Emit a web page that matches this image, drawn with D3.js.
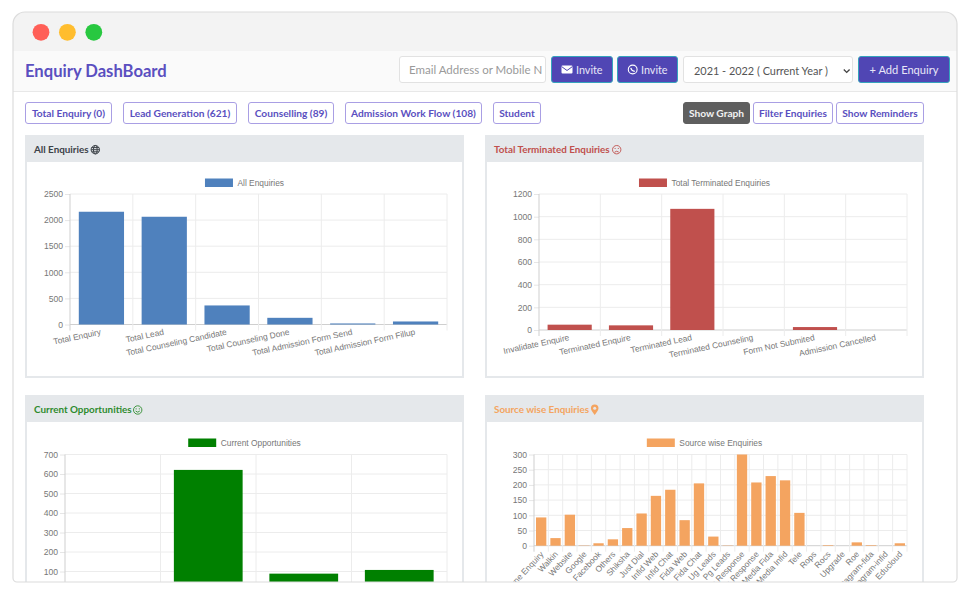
<!DOCTYPE html>
<html>
<head>
<meta charset="utf-8">
<script src="https://cdn.jsdelivr.net/npm/d3@7"></script>
<style>
html, body { margin: 0; padding: 0; background: #fff; }
svg { display: block; }
.ui { font-family: Lato, "Noto Sans", sans-serif; }
.chart text { font-family: "Liberation Sans", Arial, sans-serif; fill: #777; }
.chart .domain { display: none; }
</style>
</head>
<body>
<svg id="page" width="963" height="594"></svg>
<script>
// chart values
var allCategories = ['Total Enquiry', 'Total Lead', 'Total Counseling Candidate', 'Total Counseling Done',
    'Total Admission Form Send', 'Total Admission Form Fillup'];
var allValues = [2160, 2064, 365, 128, 20, 58];
var allTicks = [0, 500, 1000, 1500, 2000, 2500];

var terminatedCategories = ['Invalidate Enquire', 'Terminated Enquire', 'Terminated Lead', 'Terminated Counseling',
    'Form Not Submited', 'Admission Cancelled'];
var terminatedValues = [47, 41, 1069, 0, 26, 0];
var terminatedTicks = [0, 200, 400, 600, 800, 1000, 1200];

var opportunityCategories = ['Total Enquiry', 'Lead Generation', 'Counselling', 'Admission Work Flow'];
var opportunityValues = [0, 621, 89, 108];
var opportunityTicks = [0, 100, 200, 300, 400, 500, 600, 700];

var sourceCategories = ['Online Enquiry', 'Walkin', 'Website', 'Google', 'Facebook', 'Others', 'Shiksha', 'Just Dial',
    'Infid Web', 'Infid Chat', 'Fida Web', 'Fida Chat', 'Ug Leads', 'Pg Leads', 'Ug Response', 'Pg Response',
    'Social Media Fida', 'Social Media Infid', 'Tele', 'Rops', 'Rocs', 'Upgrade', 'Roe', 'Instagram-fida',
    'Instagram-infid', 'Educloud'];
var sourceValues = [93, 25, 102, 1, 8, 21, 58, 106, 164, 184, 84, 205, 30, 1, 300, 208, 229, 215, 108, 0, 2, 0, 11, 2, 0, 8];
var sourceTicks = [0, 50, 100, 150, 200, 250, 300];

var tabLabels = ['Total Enquiry (0)', 'Lead Generation (621)', 'Counselling (89)', 'Admission Work Flow (108)', 'Student'];
var actionLabels = ['Show Graph', 'Filter Enquiries', 'Show Reminders'];

var purple = '#5a4fc0';
var windowBottom = 582;
var windowPath = 'M13 24 A12 12 0 0 1 25 12 H945 A12 12 0 0 1 957 24 V578 A4 4 0 0 1 953 582 H17 A4 4 0 0 1 13 578 Z';
var svg = d3.select('#page');

// window frame
svg.append('defs').append('clipPath').attr('id', 'win')
  .append('path').attr('d', windowPath);

var win = svg.append('g').attr('clip-path', 'url(#win)');
win.append('rect').attr('x', 13).attr('y', 12).attr('width', 944).attr('height', 570).attr('fill', '#fff');
win.append('rect').attr('x', 13).attr('y', 12).attr('width', 944).attr('height', 39).attr('fill', '#f3f3f3');
win.append('rect').attr('x', 13).attr('y', 51).attr('width', 944).attr('height', 41).attr('fill', '#fafafa');
win.append('rect').attr('x', 13).attr('y', 91).attr('width', 944).attr('height', 1).attr('fill', '#e8e8e8');

win.selectAll('.dot')
    .data(['#ff5f57', '#ffbd2e', '#28c840'])
  .enter().append('circle')
    .attr('class', 'dot')
    .attr('cx', function (_, i) { return 41 + i * 26.4; })
    .attr('cy', 32.3)
    .attr('r', 8.4)
    .attr('fill', function (d) { return d; });

function box(parent, x, y, w, h, fill, stroke) {
    return parent.append('rect')
        .attr('x', x + 0.5).attr('y', y + 0.5)
        .attr('width', w - 1).attr('height', h - 1)
        .attr('rx', 2.5)
        .attr('fill', fill)
        .attr('stroke', stroke);
}

function label(parent, x, y, text, size, color, weight, anchor) {
    return parent.append('text')
        .attr('class', 'ui')
        .attr('x', x).attr('y', y)
        .attr('font-size', size)
        .attr('font-weight', weight || 400)
        .attr('fill', color)
        .attr('text-anchor', anchor || 'start')
        .text(text);
}

// header row
label(win, 25, 76.5, 'Enquiry DashBoard', 16.6, purple, 700);

box(win, 399, 56, 147, 27, '#fff', '#e2e2e2');
label(win, 409, 74, 'Email Address or Mobile N', 11.5, '#9a9a9a');

box(win, 551, 56, 62, 27, '#5046b4', '#35a3bd');
box(win, 617, 56, 61, 27, '#5046b4', '#35a3bd');
label(win, 576, 74, 'Invite', 10.8, '#e8e6f8');
label(win, 641, 74, 'Invite', 10.8, '#e8e6f8');

// envelope
win.append('rect').attr('x', 561.5).attr('y', 65.5).attr('width', 11).attr('height', 8).attr('rx', 1).attr('fill', '#fff');
win.append('path').attr('d', 'M561.5 66.5 L567 70.5 L572.5 66.5').attr('fill', 'none').attr('stroke', '#5046b4');
// whatsapp
win.append('circle').attr('cx', 632.7).attr('cy', 69.5).attr('r', 4.4).attr('fill', 'none').attr('stroke', '#fff').attr('stroke-width', 1.1);
win.append('path').attr('d', 'M630.8 67.8 Q631.4 71 634.8 71.3').attr('fill', 'none').attr('stroke', '#fff').attr('stroke-width', 1.2);

box(win, 683, 56, 170, 27, '#fff', '#e2e2e2');
label(win, 694, 75, '2021 - 2022 ( Current Year )', 10.9, '#555');
win.append('path').attr('d', 'M843.8 69.6 L846.7 72.4 L849.6 69.6').attr('fill', 'none').attr('stroke', '#444').attr('stroke-width', 1.4);

box(win, 858, 56, 92, 27, '#5046b4', '#35a3bd');
label(win, 904, 74, '+ Add Enquiry', 11.1, '#e8e6f8', 400, 'middle');

// tab row
var tabSpans = [[25, 112], [123, 237], [248, 334], [345, 482], [493, 541]];
tabLabels.forEach(function (t, i) {
    var s = tabSpans[i];
    box(win, s[0], 102, s[1] - s[0], 22, '#fff', '#a99fe4');
    label(win, (s[0] + s[1]) / 2, 117, t, 10.2, purple, 700, 'middle');
});
var actionSpans = [[683, 750], [753, 833], [836, 924]];
actionLabels.forEach(function (t, i) {
    var s = actionSpans[i];
    var on = i === 0;
    box(win, s[0], 102, s[1] - s[0], 22, on ? '#5f5f5f' : '#fff', on ? '#5f5f5f' : '#a99fe4');
    label(win, (s[0] + s[1]) / 2, 117, t, 10.2, on ? '#f2f2f2' : purple, 700, 'middle');
});

// one card with its bar chart
function drawPanel(o) {
    var card = win.append('g');
    var cardW = 439;
    var cardH = o.top === 135 ? 243 : 260;

    card.append('rect').attr('x', o.left + 1).attr('y', o.top + 1).attr('width', cardW - 2).attr('height', cardH - 2)
        .attr('fill', '#fff').attr('stroke', '#e5e8eb').attr('stroke-width', 2);
    card.append('rect').attr('x', o.left).attr('y', o.top).attr('width', cardW).attr('height', 27).attr('fill', '#e5e8eb');
    label(card, o.left + 9, o.top + 18, o.title, 9.85, o.titleColor, 700);

    var clipId = 'clip' + o.left + o.top;
    svg.select('defs').append('clipPath').attr('id', clipId)
      .append('rect').attr('x', o.clipLeft || o.left).attr('y', o.top).attr('width', cardW).attr('height', cardH);

    var g = card.append('g').attr('class', 'chart').attr('clip-path', 'url(#' + clipId + ')');

    var x = d3.scaleBand().domain(o.categories).range([o.x0, o.x1]);
    var y = d3.scaleLinear().domain([0, o.ticks[o.ticks.length - 1]]).range([o.y0, o.y1]);

    // horizontal grid and y labels
    var yAxis = g.append('g').attr('transform', 'translate(' + o.x0 + ',0)')
        .call(d3.axisLeft(y).tickValues(o.ticks).tickFormat(d3.format('d')).tickSize(5).tickPadding(2));
    yAxis.selectAll('line').attr('stroke', '#e6e6e6');
    yAxis.selectAll('text').attr('font-size', 8.6);
    // the window cuts this one off below the frame
    yAxis.selectAll('.tick').filter(function (d) { return y(d) > windowBottom; }).remove();
    g.append('g').selectAll('line').data(o.ticks).enter().append('line')
        .attr('x1', o.x0).attr('x2', o.x1)
        .attr('y1', function (d) { return y(d); })
        .attr('y2', function (d) { return y(d); })
        .attr('stroke', function (d) { return d === 0 ? '#cfcfcf' : '#ececec'; });

    // vertical grid runs on past the baseline, on the band edges
    var edges = o.categories.map(function (d) { return x(d); }).concat([o.x1]);
    g.append('g').selectAll('line').data(edges).enter().append('line')
        .attr('x1', function (d) { return d; }).attr('x2', function (d) { return d; })
        .attr('y1', o.y1).attr('y2', o.y0 + 6)
        .attr('stroke', function (_, i) { return i === 0 ? '#cfcfcf' : '#ececec'; });

    // bars, 0.72 of the band like chart.js
    var barW = x.bandwidth() * 0.72;
    g.append('g').selectAll('rect')
        .data(o.values)
      .enter().append('rect')
        .attr('x', function (_, i) { return x(o.categories[i]) + (x.bandwidth() - barW) / 2; })
        .attr('y', function (d) { return y(d); })
        .attr('width', barW)
        .attr('height', function (d) { return y(0) - y(d); })
        .attr('fill', o.color);

    // category labels, none for the chart whose baseline is below the frame
    if (o.y0 < windowBottom) {
        var xAxis = g.append('g').attr('transform', 'translate(0,' + o.y0 + ')')
            .call(d3.axisBottom(x).tickSize(0));
        xAxis.selectAll('text')
            .attr('font-size', o.labelSize)
            .attr('text-anchor', 'end')
            .attr('dy', 0)
            .attr('y', 0)
            .attr('transform', 'translate(' + o.labelDx + ',' + o.labelDy + ') rotate(' + o.rotate + ')');
    }

    // legend centred on the card
    var legend = g.append('g');
    var legendText = legend.append('text').attr('font-size', 8.4).attr('y', o.legendY + 3).text(o.title);
    var textW = legendText.node().getComputedTextLength();
    var lx = o.left + cardW / 2 - (28 + 4.5 + textW) / 2;
    legendText.attr('x', lx + 32.5);
    legend.append('rect').attr('x', lx).attr('y', o.legendY - 4.5).attr('width', 28).attr('height', 8.5).attr('fill', o.color);

    return card;
}

var panels = [
    {title: 'All Enquiries', titleColor: '#3c4248', color: '#4f81bd', left: 25, top: 135,
     x0: 70, x1: 447, y0: 324.5, y1: 194, legendY: 183,
     categories: allCategories, values: allValues, ticks: allTicks,
     rotate: -12, labelSize: 8.4, labelDx: 0, labelDy: 10},
    {title: 'Total Terminated Enquiries', titleColor: '#c0504d', color: '#c0504d', left: 485, top: 135,
     x0: 539, x1: 907, y0: 330, y1: 194, legendY: 183,
     categories: terminatedCategories, values: terminatedValues, ticks: terminatedTicks,
     rotate: -12, labelSize: 8.4, labelDx: 0, labelDy: 10},
    {title: 'Current Opportunities', titleColor: '#2e8b2e', color: '#008000', left: 25, top: 395,
     x0: 65, x1: 447, y0: 591, y1: 454.5, legendY: 443,
     categories: opportunityCategories, values: opportunityValues, ticks: opportunityTicks,
     rotate: -12, labelSize: 8.4, labelDx: 0, labelDy: 10},
    {title: 'Source wise Enquiries', titleColor: '#f4a460', color: '#f4a460', left: 485, top: 395, clipLeft: 513,
     x0: 534, x1: 907, y0: 545.7, y1: 454.5, legendY: 443,
     categories: sourceCategories, values: sourceValues, ticks: sourceTicks,
     rotate: -47, labelSize: 8.4, labelDx: 3, labelDy: 9}
];
panels.forEach(drawPanel);

// small icons beside the card titles
var globe = win.append('g').attr('fill', 'none').attr('stroke', '#3c4248').attr('stroke-width', 1);
globe.append('circle').attr('cx', 95.3).attr('cy', 149.7).attr('r', 4.2);
globe.append('ellipse').attr('cx', 95.3).attr('cy', 149.7).attr('rx', 1.9).attr('ry', 4.2);
globe.append('path').attr('d', 'M91.1 149.7 H99.5 M91.7 147.6 H98.9 M91.7 151.8 H98.9');

function face(cx, cy, color, mouth) {
    var f = win.append('g');
    f.append('circle').attr('cx', cx).attr('cy', cy).attr('r', 4.2).attr('fill', 'none').attr('stroke', color).attr('stroke-width', 0.9);
    f.append('path').attr('d', mouth).attr('fill', 'none').attr('stroke', color).attr('stroke-width', 0.9);
    f.selectAll('circle.eye').data([-1.6, 1.6]).enter().append('circle')
        .attr('class', 'eye').attr('cx', function (d) { return cx + d; }).attr('cy', cy - 1.2).attr('r', 0.6).attr('fill', color);
}
face(616.7, 149.7, '#c0504d', 'M614.6 152.2 Q616.7 150.2 618.8 152.2');
face(137.7, 410, '#2e8b2e', 'M135.6 411 Q137.7 413.4 139.8 411');

win.append('path')
    .attr('d', 'M594.7 415 C592.6 412 590.9 410.2 590.9 408.2 A3.8 3.8 0 1 1 598.5 408.2 C598.5 410.2 596.8 412 594.7 415 Z')
    .attr('fill', '#f4a460');
win.append('circle').attr('cx', 594.7).attr('cy', 408.2).attr('r', 1.5).attr('fill', '#e5e8eb');

// window outline goes on top of everything
svg.append('path').attr('d', windowPath)
    .attr('fill', 'none').attr('stroke', '#dcdcdc').attr('stroke-width', 1.2);
</script>
</body>
</html>
